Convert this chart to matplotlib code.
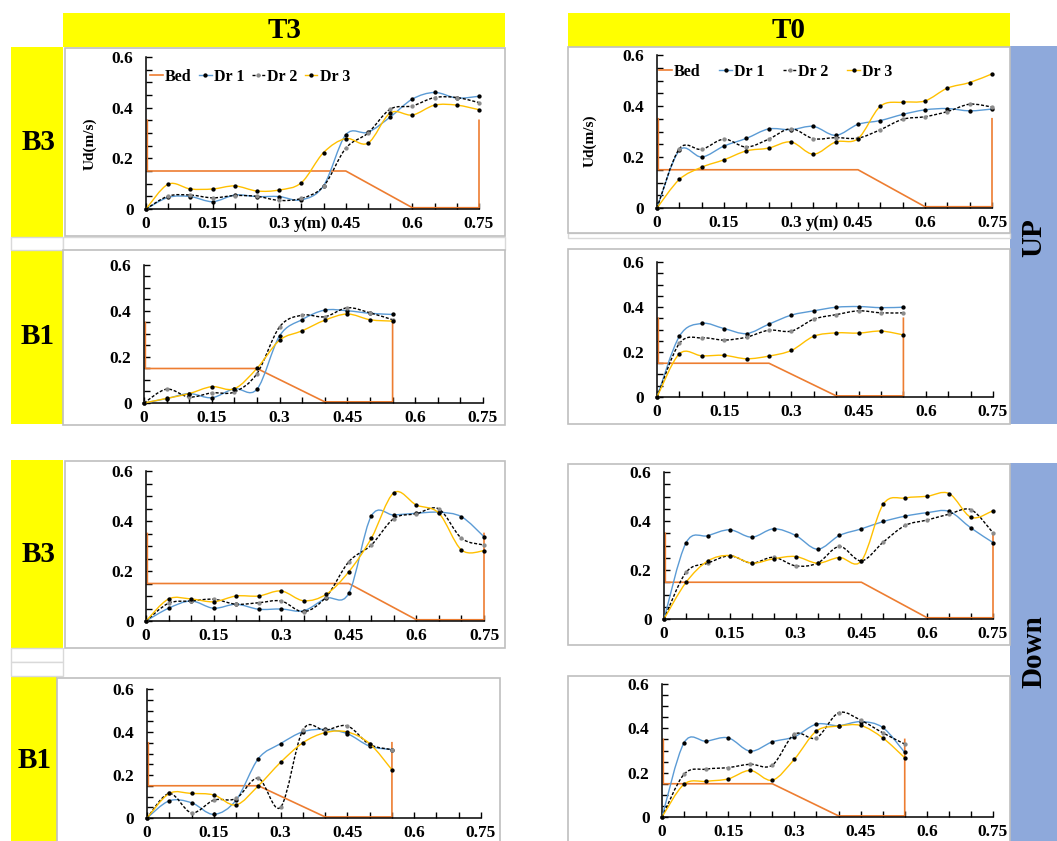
import numpy as np
import matplotlib
matplotlib.use("Agg")
import matplotlib.pyplot as plt
from matplotlib.path import Path
from matplotlib.patches import PathPatch, Rectangle
from matplotlib.lines import Line2D

plt.rcParams['font.family'] = ['Liberation Serif', 'DejaVu Serif']
plt.rcParams['font.weight'] = 'bold'

# ---- data -------------------------------------------------------------
x_b3 = [0, 0.05, 0.10, 0.15, 0.20, 0.25, 0.30, 0.35, 0.40, 0.45, 0.50, 0.55, 0.60, 0.65, 0.70, 0.75]
x_b1 = [0, 0.05, 0.10, 0.15, 0.20, 0.25, 0.30, 0.35, 0.40, 0.45, 0.50, 0.55]

bed_x_b3 = [0.003, 0.003, 0.45, 0.60, 0.75, 0.75]
bed_x_b1 = [0.003, 0.003, 0.25, 0.40, 0.55, 0.55]
bed_y = [0.35, 0.15, 0.15, 0.005, 0.005, 0.35]

# T3, B3, UP
t3_b3_up_dr1 = [0, 0.046, 0.049, 0.029, 0.055, 0.049, 0.049, 0.036, 0.092, 0.293, 0.303, 0.363, 0.434, 0.460, 0.438, 0.445]
t3_b3_up_dr2 = [0, 0.051, 0.055, 0.044, 0.053, 0.050, 0.034, 0.042, 0.090, 0.240, 0.300, 0.394, 0.407, 0.440, 0.440, 0.420]
t3_b3_up_dr3 = [0, 0.098, 0.079, 0.079, 0.091, 0.071, 0.075, 0.104, 0.223, 0.278, 0.260, 0.379, 0.371, 0.410, 0.410, 0.392]
# T0, B3, UP
t0_b3_up_dr1 = [0, 0.226, 0.200, 0.243, 0.273, 0.310, 0.307, 0.320, 0.285, 0.328, 0.343, 0.367, 0.385, 0.390, 0.381, 0.388]
t0_b3_up_dr2 = [0, 0.232, 0.230, 0.270, 0.239, 0.270, 0.311, 0.272, 0.276, 0.274, 0.307, 0.348, 0.358, 0.378, 0.407, 0.396]
t0_b3_up_dr3 = [0, 0.112, 0.160, 0.189, 0.224, 0.235, 0.259, 0.211, 0.259, 0.272, 0.399, 0.415, 0.420, 0.470, 0.492, 0.526]
# T3, B1, UP
t3_b1_up_dr1 = [0, 0.019, 0.041, 0.023, 0.062, 0.060, 0.292, 0.363, 0.404, 0.401, 0.390, 0.385]
t3_b1_up_dr2 = [0, 0.060, 0.026, 0.044, 0.048, 0.128, 0.331, 0.382, 0.375, 0.414, 0.392, 0.362]
t3_b1_up_dr3 = [0, 0.020, 0.041, 0.071, 0.062, 0.151, 0.273, 0.314, 0.360, 0.387, 0.362, 0.356]
# T0, B1, UP
t0_b1_up_dr1 = [0, 0.270, 0.327, 0.304, 0.282, 0.324, 0.364, 0.383, 0.399, 0.402, 0.397, 0.399]
t0_b1_up_dr2 = [0, 0.238, 0.263, 0.253, 0.266, 0.297, 0.293, 0.346, 0.366, 0.383, 0.374, 0.374]
t0_b1_up_dr3 = [0, 0.192, 0.183, 0.185, 0.170, 0.182, 0.207, 0.270, 0.285, 0.284, 0.293, 0.276]
# T3, B3, Down
t3_b3_dn_dr1 = [0, 0.051, 0.080, 0.051, 0.067, 0.047, 0.048, 0.041, 0.091, 0.111, 0.420, 0.424, 0.431, 0.435, 0.417, 0.337]
t3_b3_dn_dr2 = [0, 0.071, 0.080, 0.087, 0.067, 0.073, 0.080, 0.037, 0.097, 0.237, 0.304, 0.410, 0.429, 0.448, 0.331, 0.304]
t3_b3_dn_dr3 = [0, 0.088, 0.088, 0.077, 0.100, 0.100, 0.120, 0.081, 0.107, 0.197, 0.331, 0.513, 0.464, 0.431, 0.284, 0.281]
# T0, B3, Down
t0_b3_dn_dr1 = [0, 0.310, 0.340, 0.364, 0.334, 0.368, 0.341, 0.285, 0.341, 0.368, 0.398, 0.420, 0.434, 0.439, 0.371, 0.312]
t0_b3_dn_dr2 = [0, 0.190, 0.228, 0.258, 0.228, 0.252, 0.217, 0.228, 0.296, 0.237, 0.314, 0.382, 0.404, 0.428, 0.446, 0.352]
t0_b3_dn_dr3 = [0, 0.149, 0.237, 0.259, 0.228, 0.246, 0.255, 0.228, 0.251, 0.237, 0.469, 0.494, 0.501, 0.512, 0.415, 0.442]
# T3, B1, Down
t3_b1_dn_dr1 = [0, 0.080, 0.071, 0.017, 0.083, 0.276, 0.346, 0.401, 0.412, 0.392, 0.334, 0.318]
t3_b1_dn_dr2 = [0, 0.114, 0.024, 0.083, 0.091, 0.185, 0.050, 0.409, 0.408, 0.428, 0.342, 0.318]
t3_b1_dn_dr3 = [0, 0.114, 0.114, 0.107, 0.061, 0.150, 0.259, 0.350, 0.397, 0.400, 0.346, 0.224]
# T0, B1, Down
t0_b1_dn_dr1 = [0, 0.335, 0.342, 0.357, 0.297, 0.339, 0.362, 0.419, 0.412, 0.430, 0.404, 0.291]
t0_b1_dn_dr2 = [0, 0.193, 0.216, 0.223, 0.238, 0.234, 0.374, 0.357, 0.470, 0.437, 0.380, 0.329]
t0_b1_dn_dr3 = [0, 0.148, 0.161, 0.172, 0.210, 0.166, 0.261, 0.388, 0.410, 0.413, 0.357, 0.267]

x_major = [0, 0.15, 0.3, 0.45, 0.6, 0.75]
x_major_labels = ['0', '0.15', '0.3', '0.45', '0.6', '0.75']
y_major = [0, 0.2, 0.4, 0.6]
y_major_labels = ['0', '0.2', '0.4', '0.6']
x_minor = [0.05, 0.10, 0.20, 0.25, 0.35, 0.40, 0.50, 0.55, 0.65, 0.70]
y_minor = [0.05, 0.10, 0.15, 0.25, 0.30, 0.35, 0.45, 0.50, 0.55]

# ---- layout -----------------------------------------------------------
W, H = 1057, 841
fig = plt.figure(figsize=(W / 100, H / 100), dpi=100)

YELLOW = '#FFFF00'
BLUE = '#8EA9DB'
BED_C = '#ED7D31'
DR1_C = '#5B9BD5'
DR3_C = '#FFC000'
MS = 2.1


def box(x0, y0, x1, y1):
    return [x0 / W, 1 - y1 / H, (x1 - x0) / W, (y1 - y0) / H]


def rect(x0, y0, x1, y1, fc, ec='none', lw=1.0):
    b = box(x0, y0, x1, y1)
    fig.add_artist(Rectangle((b[0], b[1]), b[2], b[3], transform=fig.transFigure,
                             facecolor=fc, edgecolor=ec, linewidth=lw, zorder=-2))


def label(x, y, s, rot=0, size=21):
    fig.text(x / W, 1 - y / H, s, ha='center', va='center', rotation=rot,
             fontsize=size, fontweight='bold')


# header cells
rect(63, 13, 505, 47, YELLOW)
rect(568, 13, 1010, 47, YELLOW)
label(285, 30, 'T3')
label(789, 30, 'T0')

# row label cells
rect(11, 47, 63, 237, YELLOW)
rect(11, 250, 63, 424, YELLOW)
rect(11, 460, 63, 648, YELLOW)
rect(11, 676, 57, 841, YELLOW)
label(38, 142, 'B3')
label(38, 337, 'B1')
label(38, 554, 'B3')
label(35, 760, 'B1')

rect(1010, 46, 1057, 424, BLUE)
rect(1010, 463, 1057, 841, BLUE)
label(1034, 238, 'UP', rot=90)
label(1034, 652, 'Down', rot=90)

# faint spreadsheet cells in the gaps
rect(11, 237, 63, 250, 'white', '#D9D9D9')
rect(63, 237, 505, 250, 'white', '#D9D9D9')
rect(568, 233, 1010, 238, 'white', '#D9D9D9')
rect(11, 648, 63, 662, 'white', '#D9D9D9')
rect(11, 662, 63, 676, 'white', '#D9D9D9')

# chart frames
frames = [(65, 48, 505, 236), (568, 47, 1010, 233),
          (63, 250, 505, 425), (568, 249, 1010, 424),
          (65, 461, 505, 648), (568, 464, 1010, 645),
          (57, 678, 500, 842), (568, 676, 1010, 842)]
for f in frames:
    rect(*f, fc='white', ec='#BFBFBF', lw=1.2)


def smooth_path(xs, ys):
    p = np.column_stack([xs, ys])
    n = len(p)
    verts = [p[0]]
    codes = [Path.MOVETO]
    for i in range(n - 1):
        p0 = p[i - 1] if i > 0 else p[i]
        p3 = p[i + 2] if i + 2 < n else p[i + 1]
        c1 = p[i] + (p[i + 1] - p0) / 6.0
        c2 = p[i + 1] - (p3 - p[i]) / 6.0
        verts += [c1, c2, p[i + 1]]
        codes += [Path.CURVE4] * 3
    return Path(verts, codes)


DR2_LS = (0, (2.2, 1.3))
styles = [dict(color=DR1_C, ls='-', mfc='black'),
          dict(color='black', ls=DR2_LS, mfc='#8C8C8C'),
          dict(color=DR3_C, ls='-', mfc='black')]

panels = [
    ((146, 57, 479, 209), x_b3, bed_x_b3, [t3_b3_up_dr1, t3_b3_up_dr2, t3_b3_up_dr3], 'top', (0.012, 0.87, 0.45), (-0.17, 0.43)),
    ((657, 55, 992, 208), x_b3, bed_x_b3, [t0_b3_up_dr1, t0_b3_up_dr2, t0_b3_up_dr3], 'top', (0.006, 0.89, 1.15), (-0.20, 0.44)),
    ((144, 265, 483, 403), x_b1, bed_x_b1, [t3_b1_up_dr1, t3_b1_up_dr2, t3_b1_up_dr3], None, None, None),
    ((657, 262, 993, 397), x_b1, bed_x_b1, [t0_b1_up_dr1, t0_b1_up_dr2, t0_b1_up_dr3], None, None, None),
    ((146, 471, 484, 621), x_b3, bed_x_b3, [t3_b3_dn_dr1, t3_b3_dn_dr2, t3_b3_dn_dr3], None, None, None),
    ((664, 472, 993, 619), x_b3, bed_x_b3, [t0_b3_dn_dr1, t0_b3_dn_dr2, t0_b3_dn_dr3], None, None, None),
    ((147, 689, 481, 818), x_b1, bed_x_b1, [t3_b1_dn_dr1, t3_b1_dn_dr2, t3_b1_dn_dr3], None, None, None),
    ((662, 684, 993, 817), x_b1, bed_x_b1, [t0_b1_dn_dr1, t0_b1_dn_dr2, t0_b1_dn_dr3], None, None, None),
]

for pos, xs, bedx, series, kind, leg, ylab in panels:
    ax = fig.add_axes(box(*pos))
    ax.patch.set_alpha(0)
    ax.set_xlim(0, 0.75)
    ax.set_ylim(0, 0.6)
    for s in ['top', 'right']:
        ax.spines[s].set_visible(False)
    for s in ['left', 'bottom']:
        ax.spines[s].set_linewidth(1.1)
        ax.spines[s].set_color('black')
    ax.set_xticks(x_major)
    ax.set_xticklabels(x_major_labels)
    ax.set_xticks(x_minor, minor=True)
    ax.set_yticks(y_major)
    ax.set_yticklabels(y_major_labels)
    ax.set_yticks(y_minor, minor=True)
    ax.tick_params(which='both', direction='in', length=4, width=1, labelsize=12.5)
    ax.tick_params(axis='x', pad=5)
    ax.tick_params(axis='y', pad=9)

    ax.plot(bedx, bed_y, color=BED_C, lw=1.2, clip_on=False, zorder=2)
    for k, (ys, st) in enumerate(zip(series, styles)):
        ax.add_patch(PathPatch(smooth_path(xs, ys), fill=False, edgecolor=st['color'],
                               lw=1.0, linestyle=st['ls'], clip_on=False, zorder=3 + k))
        ax.plot(xs, ys, ls='none', marker='o', ms=MS, mfc=st['mfc'], mec=st['mfc'],
                clip_on=False, zorder=3.5 + k)

    if kind == 'top':
        ax.annotate('y(m)', xy=(0.37, 0), xycoords=('data', 'axes fraction'),
                    xytext=(0, -5), textcoords='offset points', ha='center', va='top',
                    fontsize=12, fontweight='bold')
        ax.text(ylab[0], ylab[1], 'Ud(m/s)', transform=ax.transAxes, rotation=90,
                ha='center', va='center', fontsize=11, fontweight='bold')
        handles = [Line2D([], [], color=BED_C, lw=1.2),
                   Line2D([], [], color=DR1_C, lw=1.0, marker='o', ms=MS, mfc='black', mec='black'),
                   Line2D([], [], color='black', lw=1.0, ls=DR2_LS, marker='o', ms=MS,
                          mfc='#8C8C8C', mec='#8C8C8C'),
                   Line2D([], [], color=DR3_C, lw=1.0, marker='o', ms=MS, mfc='black', mec='black')]
        ax.legend(handles, ['Bed', 'Dr 1', 'Dr 2', 'Dr 3'], loc='center left',
                  bbox_to_anchor=(leg[0], leg[1]), ncol=4, frameon=False,
                  handlelength=0.8, handletextpad=0.15, columnspacing=leg[2],
                  borderpad=0, borderaxespad=0, prop={'size': 11.5, 'weight': 'bold'})

fig.savefig('out.png', dpi=100, facecolor='white')
